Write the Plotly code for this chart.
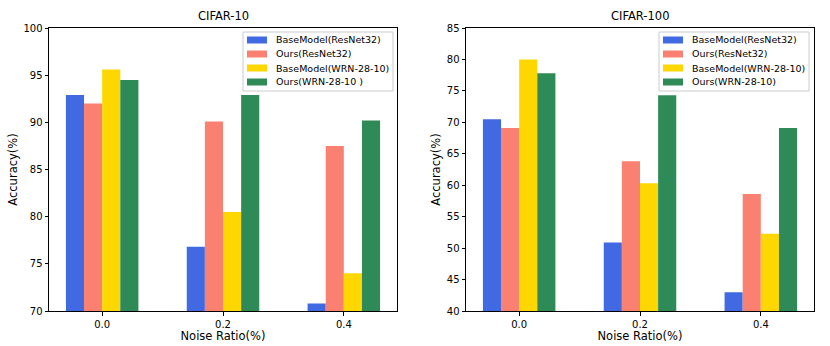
import plotly.graph_objects as go
from plotly.subplots import make_subplots

# ── Veri ──
noise_ratios = ["0.0", "0.2", "0.4"]
y_ticks_c10 = [70, 75, 80, 85, 90, 95, 100]
y_ticks_c100 = [40, 45, 50, 55, 60, 65, 70, 75, 80, 85]

series_names_c10 = ["BaseModel(ResNet32)", "Ours(ResNet32)", "BaseModel(WRN-28-10)", "Ours(WRN-28-10 )"]
series_names_c100 = ["BaseModel(ResNet32)", "Ours(ResNet32)", "BaseModel(WRN-28-10)", "Ours(WRN-28-10)"]

c10_base_resnet = [92.9, 76.8, 70.8]
c10_ours_resnet = [92.0, 90.1, 87.5]
c10_base_wrn = [95.6, 80.5, 74.0]
c10_ours_wrn = [94.5, 92.9, 90.2]

c100_base_resnet = [70.5, 50.9, 43.0]
c100_ours_resnet = [69.1, 63.8, 58.6]
c100_base_wrn = [80.0, 60.3, 52.3]
c100_ours_wrn = [77.8, 74.3, 69.1]

COLORS = ["#4169E1", "#FA8072", "#FFD700", "#2E8B57"]
FONT = "DejaVu Sans"
W, H = 830, 346

fig = make_subplots(rows=1, cols=2, subplot_titles=["CIFAR-10", "CIFAR-100"])

c10 = [c10_base_resnet, c10_ours_resnet, c10_base_wrn, c10_ours_wrn]
c100 = [c100_base_resnet, c100_ours_resnet, c100_base_wrn, c100_ours_wrn]

for name, vals, col in zip(series_names_c10, c10, COLORS):
    fig.add_trace(go.Bar(x=noise_ratios, y=vals, name=name, marker_color=col,
                         marker_line_width=0, showlegend=False), row=1, col=1)
for name, vals, col in zip(series_names_c100, c100, COLORS):
    fig.add_trace(go.Bar(x=noise_ratios, y=vals, name=name, marker_color=col,
                         marker_line_width=0, showlegend=False), row=1, col=2)

# plot alanlari (piksel)
x_dom1 = [49, 397]
x_dom2 = [466, 814]
y_top, y_bot = 28, 311
y_dom = [1 - y_bot / H, 1 - y_top / H]

axis_common = dict(showline=True, linecolor="black", linewidth=1, mirror=True,
                   ticks="outside", ticklen=3.5, tickcolor="black",
                   showgrid=False, zeroline=False, automargin=False,
                   tickfont=dict(size=10, color="black", family=FONT))

fig.update_xaxes(**axis_common, range=[-0.44, 2.44], ticklabelstandoff=0,
                 title=dict(text="Noise Ratio(%)", font=dict(size=11.5, color="black", family=FONT), standoff=1))
fig.update_yaxes(**axis_common,
                 title=dict(text="Accuracy(%)", font=dict(size=11.5, color="black", family=FONT), standoff=3))

fig.update_layout(
    width=W, height=H,
    margin=dict(l=0, r=0, t=0, b=0, autoexpand=False),
    paper_bgcolor="white", plot_bgcolor="white",
    font=dict(family=FONT, color="black"),
    barmode="group", bargap=0.4, bargroupgap=0,
    showlegend=False,
    xaxis=dict(domain=[x_dom1[0] / W, x_dom1[1] / W]),
    xaxis2=dict(domain=[x_dom2[0] / W, x_dom2[1] / W]),
    yaxis=dict(domain=y_dom, range=[70, 100], tickvals=y_ticks_c10),
    yaxis2=dict(domain=y_dom, range=[40, 85], tickvals=y_ticks_c100),
)

# alt grafik basliklari
for ann, dom in zip(fig.layout.annotations, [x_dom1, x_dom2]):
    ann.font = dict(size=11.5, color="black", family=FONT)
    ann.x = (dom[0] + dom[1]) / 2 / W
    ann.y = 1 - y_top / H
    ann.yshift = 3


# matplotlib tarzi legend kutusu
def add_legend(names, box_left, box_right):
    px = lambda v: v / W
    py = lambda v: 1 - v / H
    fig.add_shape(type="rect", xref="paper", yref="paper",
                  x0=px(box_left), x1=px(box_right), y0=py(91), y1=py(32),
                  line=dict(color="#cccccc", width=1), fillcolor="rgba(255,255,255,0.8)",
                  layer="above")
    for i, (name, col) in enumerate(zip(names, COLORS)):
        yc = 40 + 14 * i
        fig.add_shape(type="rect", xref="paper", yref="paper",
                      x0=px(box_left + 4), x1=px(box_left + 24),
                      y0=py(yc + 3.5), y1=py(yc - 3.5),
                      line=dict(width=0), fillcolor=col, layer="above")
        fig.add_annotation(x=px(box_left + 31), y=py(yc), xref="paper", yref="paper",
                           text=name, showarrow=False, xanchor="left", yanchor="middle",
                           font=dict(size=9.5, color="black", family=FONT))


add_legend(series_names_c10, 243, 393)
add_legend(series_names_c100, 659, 809)

# sayfa kenar boslugunu kaldir
fig.write_html("out.html", config={"displayModeBar": False},
               post_script="document.body.style.margin='0px';")
